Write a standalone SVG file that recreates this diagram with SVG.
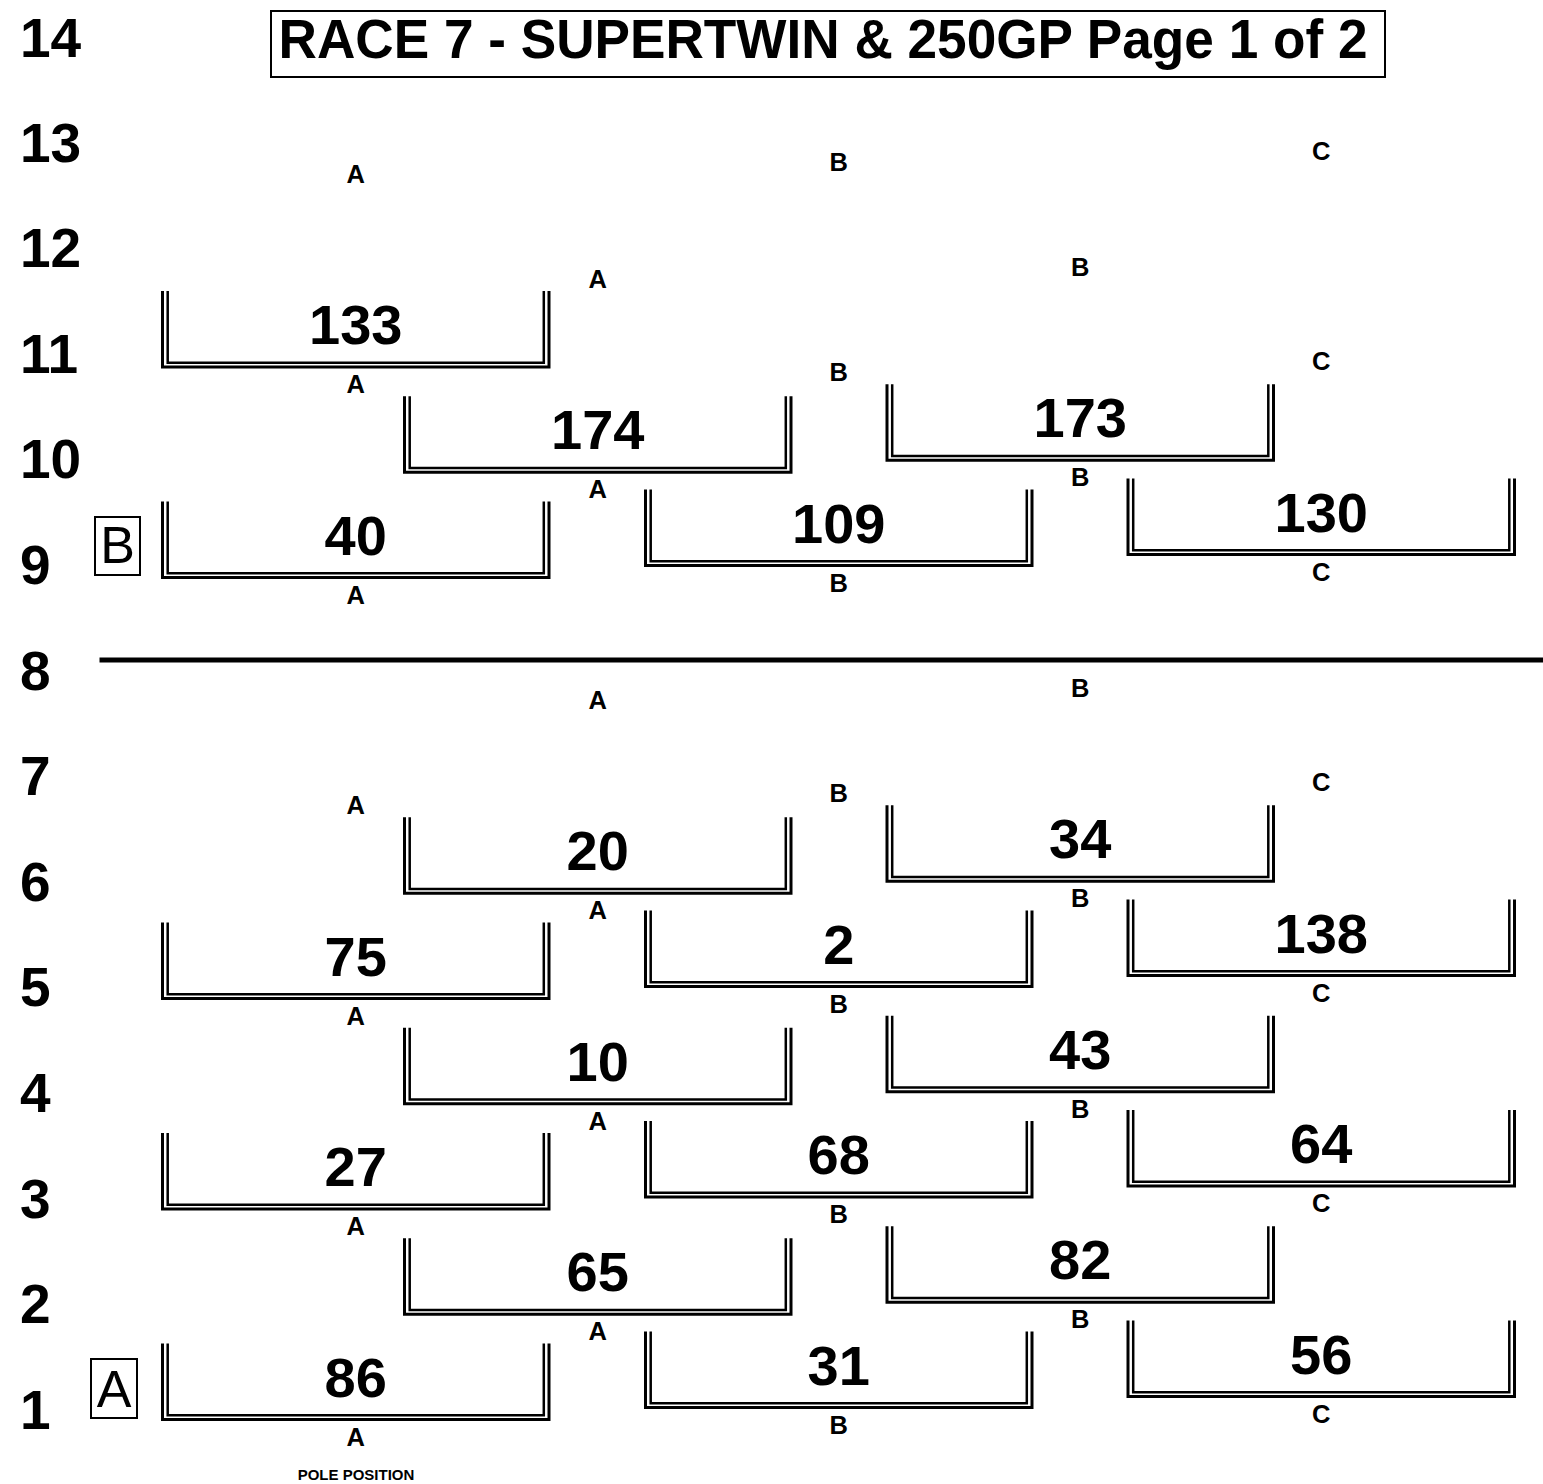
<svg xmlns="http://www.w3.org/2000/svg" xmlns:xlink="http://www.w3.org/1999/xlink" width="1543" height="1484" viewBox="0 0 1543 1484">
<style>
text{font-family:"Liberation Sans",Arial,Helvetica,sans-serif;fill:#000}
.num{font-weight:bold;font-size:56px;text-anchor:middle}
.lbl{font-weight:bold;font-size:25.5px;text-anchor:middle}
.row{font-weight:bold;font-size:55px}
.title{font-weight:bold;font-size:56px;text-anchor:middle}
.box{fill:none;stroke:#000;stroke-width:2}
.ltr{font-size:52px;text-anchor:middle}
.o{fill:none;stroke:#000;stroke-width:3}
.i{fill:none;stroke:#000;stroke-width:2.5}
</style>
<defs>
<g id="br">
<path class="o" d="M0,0V76H386.5V0"/>
<path class="i" d="M5.2,0V71.8H381.3V0"/>
</g>
</defs>
<rect width="1543" height="1484" fill="#fff"/>
<g id="title">
<rect class="box" x="271" y="11" width="1114" height="66"/>
<text class="title" x="823" y="58" textLength="1089" lengthAdjust="spacingAndGlyphs">RACE 7 - SUPERTWIN &amp; 250GP Page 1 of 2</text>
</g>
<g id="rows">
<text class="row" x="20" y="57">14</text>
<text class="row" x="20" y="161.6">13</text>
<text class="row" x="20" y="267.2">12</text>
<text class="row" x="20" y="372.8">11</text>
<text class="row" x="20" y="478.4">10</text>
<text class="row" x="20" y="584">9</text>
<text class="row" x="20" y="689.6">8</text>
<text class="row" x="20" y="795.2">7</text>
<text class="row" x="20" y="900.8">6</text>
<text class="row" x="20" y="1006.4">5</text>
<text class="row" x="20" y="1112">4</text>
<text class="row" x="20" y="1217.6">3</text>
<text class="row" x="20" y="1323.2">2</text>
<text class="row" x="20" y="1428.8">1</text>
</g>
<g id="connectors">
<line x1="99.5" y1="660" x2="1543" y2="660" stroke="#000" stroke-width="5"/>
</g>
<g id="boxA">
<rect class="box" x="91" y="1359" width="46" height="59"/>
<text class="ltr" x="114" y="1407">A</text>
</g>
<g id="boxB">
<rect class="box" x="95" y="517" width="45" height="58"/>
<text class="ltr" x="117.5" y="563">B</text>
</g>
<g id="n86"><use xlink:href="#br" x="162.5" y="1343.5"/><text class="num" x="355.75" y="1396.5">86</text></g>
<g id="n27"><use xlink:href="#br" x="162.5" y="1133"/><text class="num" x="355.75" y="1186">27</text></g>
<g id="n75"><use xlink:href="#br" x="162.5" y="922.5"/><text class="num" x="355.75" y="975.5">75</text></g>
<g id="n40"><use xlink:href="#br" x="162.5" y="501.5"/><text class="num" x="355.75" y="554.5">40</text></g>
<g id="n133"><use xlink:href="#br" x="162.5" y="291"/><text class="num" x="355.75" y="344">133</text></g>
<g id="n65"><use xlink:href="#br" x="404.5" y="1238.3"/><text class="num" x="597.75" y="1291.3">65</text></g>
<g id="n10"><use xlink:href="#br" x="404.5" y="1027.8"/><text class="num" x="597.75" y="1080.8">10</text></g>
<g id="n20"><use xlink:href="#br" x="404.5" y="817.3"/><text class="num" x="597.75" y="870.3">20</text></g>
<g id="n174"><use xlink:href="#br" x="404.5" y="396.3"/><text class="num" x="597.75" y="449.3">174</text></g>
<g id="n31"><use xlink:href="#br" x="645.5" y="1331.5"/><text class="num" x="838.75" y="1384.5">31</text></g>
<g id="n68"><use xlink:href="#br" x="645.5" y="1121"/><text class="num" x="838.75" y="1174">68</text></g>
<g id="n2"><use xlink:href="#br" x="645.5" y="910.5"/><text class="num" x="838.75" y="963.5">2</text></g>
<g id="n109"><use xlink:href="#br" x="645.5" y="489.5"/><text class="num" x="838.75" y="542.5">109</text></g>
<g id="n82"><use xlink:href="#br" x="887" y="1226.3"/><text class="num" x="1080.25" y="1279.3">82</text></g>
<g id="n43"><use xlink:href="#br" x="887" y="1015.8"/><text class="num" x="1080.25" y="1068.8">43</text></g>
<g id="n34"><use xlink:href="#br" x="887" y="805.3"/><text class="num" x="1080.25" y="858.3">34</text></g>
<g id="n173"><use xlink:href="#br" x="887" y="384.3"/><text class="num" x="1080.25" y="437.3">173</text></g>
<g id="n56"><use xlink:href="#br" x="1128" y="1320.5"/><text class="num" x="1321.25" y="1373.5">56</text></g>
<g id="n64"><use xlink:href="#br" x="1128" y="1110"/><text class="num" x="1321.25" y="1163">64</text></g>
<g id="n138"><use xlink:href="#br" x="1128" y="899.5"/><text class="num" x="1321.25" y="952.5">138</text></g>
<g id="n130"><use xlink:href="#br" x="1128" y="478.5"/><text class="num" x="1321.25" y="531.5">130</text></g>
<g id="labels">
<text class="lbl" x="355.75" y="1445.5">A</text>
<text class="lbl" x="355.75" y="1235">A</text>
<text class="lbl" x="355.75" y="1024.5">A</text>
<text class="lbl" x="355.75" y="814">A</text>
<text class="lbl" x="355.75" y="603.5">A</text>
<text class="lbl" x="355.75" y="393">A</text>
<text class="lbl" x="355.75" y="182.5">A</text>
<text class="lbl" x="597.75" y="1340.3">A</text>
<text class="lbl" x="597.75" y="1129.8">A</text>
<text class="lbl" x="597.75" y="919.3">A</text>
<text class="lbl" x="597.75" y="708.8">A</text>
<text class="lbl" x="597.75" y="498.3">A</text>
<text class="lbl" x="597.75" y="287.8">A</text>
<text class="lbl" x="838.75" y="1433.5">B</text>
<text class="lbl" x="838.75" y="1223">B</text>
<text class="lbl" x="838.75" y="1012.5">B</text>
<text class="lbl" x="838.75" y="802">B</text>
<text class="lbl" x="838.75" y="591.5">B</text>
<text class="lbl" x="838.75" y="381">B</text>
<text class="lbl" x="838.75" y="170.5">B</text>
<text class="lbl" x="1080.25" y="1328.3">B</text>
<text class="lbl" x="1080.25" y="1117.8">B</text>
<text class="lbl" x="1080.25" y="907.3">B</text>
<text class="lbl" x="1080.25" y="696.8">B</text>
<text class="lbl" x="1080.25" y="486.3">B</text>
<text class="lbl" x="1080.25" y="275.8">B</text>
<text class="lbl" x="1321.25" y="1422.5">C</text>
<text class="lbl" x="1321.25" y="1212">C</text>
<text class="lbl" x="1321.25" y="1001.5">C</text>
<text class="lbl" x="1321.25" y="791">C</text>
<text class="lbl" x="1321.25" y="580.5">C</text>
<text class="lbl" x="1321.25" y="370">C</text>
<text class="lbl" x="1321.25" y="159.5">C</text>
<text x="356" y="1480" font-size="15" font-weight="bold" text-anchor="middle">POLE POSITION</text>
</g>
</svg>
